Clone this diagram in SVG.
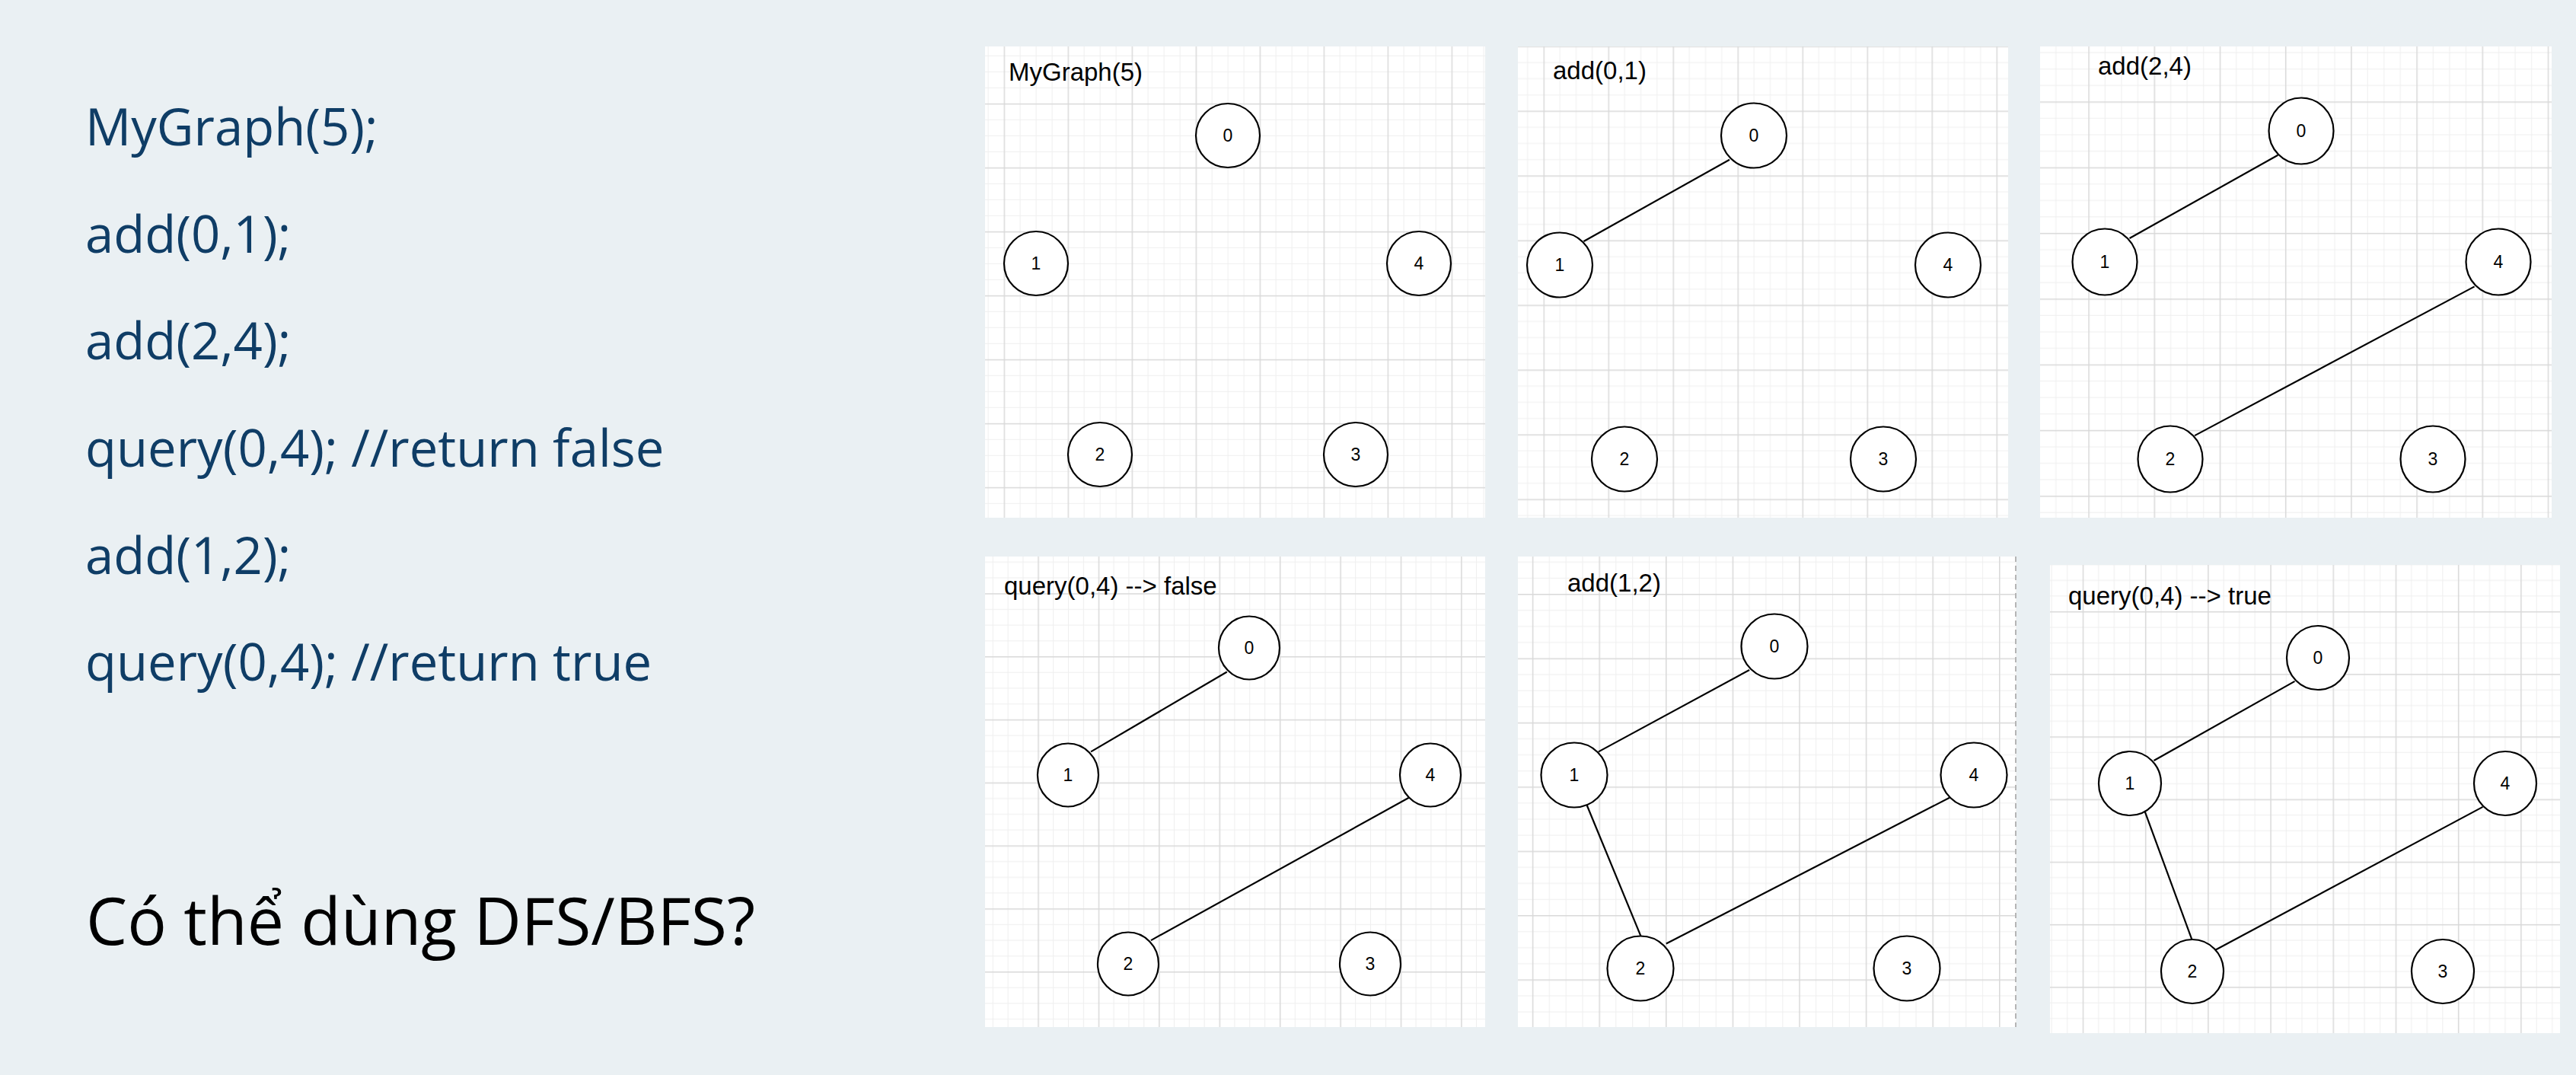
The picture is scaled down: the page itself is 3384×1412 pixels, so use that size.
<svg xmlns="http://www.w3.org/2000/svg" width="3384" height="1412" viewBox="0 0 3384 1412">
<style>
.code{font-family:"Open Sans","Noto Sans",sans-serif;font-size:67px;fill:#0f3d66;}
.q{font-family:"Open Sans","Noto Sans",sans-serif;font-size:86px;fill:#000;}
.title{font-family:"Liberation Sans",Arial,sans-serif;font-size:33px;fill:#000;}
.lbl{font-family:"Liberation Sans",Arial,sans-serif;font-size:23px;fill:#000;text-anchor:middle;}
.node{fill:#fff;stroke:#000;stroke-width:2.2;}
.edge{stroke:#000;stroke-width:2.2;fill:none;}
.mn{fill:#efefef;}
.mj{fill:#d9d9d9;}
</style>
<defs>
<pattern id="g1" patternUnits="userSpaceOnUse" x="1318.6" y="135.8" width="84" height="84">
<rect width="84" height="84" fill="#fff"/>
<rect class="mn" x="21" y="0" width="1" height="84"/><rect class="mn" x="42" y="0" width="1" height="84"/><rect class="mn" x="63" y="0" width="1" height="84"/>
<rect class="mn" x="0" y="21" width="84" height="1"/><rect class="mn" x="0" y="42" width="84" height="1"/><rect class="mn" x="0" y="63" width="84" height="1"/>
<rect class="mj" x="0" y="0" width="1.5" height="84"/><rect class="mj" x="0" y="0" width="84" height="1.5"/>
</pattern>
<pattern id="g2" patternUnits="userSpaceOnUse" x="2027.5" y="145.4" width="85" height="85">
<rect width="85" height="85" fill="#fff"/>
<rect class="mn" x="21.25" y="0" width="1" height="85"/><rect class="mn" x="42.5" y="0" width="1" height="85"/><rect class="mn" x="63.75" y="0" width="1" height="85"/>
<rect class="mn" x="0" y="21.25" width="85" height="1"/><rect class="mn" x="0" y="42.5" width="85" height="1"/><rect class="mn" x="0" y="63.75" width="85" height="1"/>
<rect class="mj" x="0" y="0" width="1.5" height="85"/><rect class="mj" x="0" y="0" width="85" height="1.5"/>
</pattern>
<pattern id="g3" patternUnits="userSpaceOnUse" x="2743.3" y="133.3" width="86.2" height="86.3">
<rect width="86.2" height="86.3" fill="#fff"/>
<rect class="mn" x="21.55" y="0" width="1" height="86.3"/><rect class="mn" x="43.1" y="0" width="1" height="86.3"/><rect class="mn" x="64.65" y="0" width="1" height="86.3"/>
<rect class="mn" x="0" y="21.58" width="86.2" height="1"/><rect class="mn" x="0" y="43.15" width="86.2" height="1"/><rect class="mn" x="0" y="64.72" width="86.2" height="1"/>
<rect class="mj" x="0" y="0" width="1.5" height="86.3"/><rect class="mj" x="0" y="0" width="86.2" height="1.5"/>
</pattern>
<pattern id="g4" patternUnits="userSpaceOnUse" x="1363.3" y="779.2" width="79.4" height="82.8">
<rect width="79.4" height="82.8" fill="#fff"/>
<rect class="mn" x="19.85" y="0" width="1" height="82.8"/><rect class="mn" x="39.7" y="0" width="1" height="82.8"/><rect class="mn" x="59.55" y="0" width="1" height="82.8"/>
<rect class="mn" x="0" y="20.7" width="79.4" height="1"/><rect class="mn" x="0" y="41.4" width="79.4" height="1"/><rect class="mn" x="0" y="62.1" width="79.4" height="1"/>
<rect class="mj" x="0" y="0" width="1.5" height="82.8"/><rect class="mj" x="0" y="0" width="79.4" height="1.5"/>
</pattern>
<pattern id="g5" patternUnits="userSpaceOnUse" x="2012.8" y="780" width="87.6" height="84.4">
<rect width="87.6" height="84.4" fill="#fff"/>
<rect class="mn" x="21.9" y="0" width="1" height="84.4"/><rect class="mn" x="43.8" y="0" width="1" height="84.4"/><rect class="mn" x="65.7" y="0" width="1" height="84.4"/>
<rect class="mn" x="0" y="21.1" width="87.6" height="1"/><rect class="mn" x="0" y="42.2" width="87.6" height="1"/><rect class="mn" x="0" y="63.3" width="87.6" height="1"/>
<rect class="mj" x="0" y="0" width="1.5" height="84.4"/><rect class="mj" x="0" y="0" width="87.6" height="1.5"/>
</pattern>
<pattern id="g6" patternUnits="userSpaceOnUse" x="2735.7" y="802.9" width="82.2" height="82.2">
<rect width="82.2" height="82.2" fill="#fff"/>
<rect class="mn" x="20.55" y="0" width="1" height="82.2"/><rect class="mn" x="41.1" y="0" width="1" height="82.2"/><rect class="mn" x="61.65" y="0" width="1" height="82.2"/>
<rect class="mn" x="0" y="20.55" width="82.2" height="1"/><rect class="mn" x="0" y="41.1" width="82.2" height="1"/><rect class="mn" x="0" y="61.65" width="82.2" height="1"/>
<rect class="mj" x="0" y="0" width="1.5" height="82.2"/><rect class="mj" x="0" y="0" width="82.2" height="1.5"/>
</pattern>
</defs>
<rect x="0" y="0" width="3384" height="1412" fill="#eaf0f3"/>

<g id="code-text">
<text class="code" x="112" y="191">MyGraph(5);</text>
<text class="code" x="112" y="332">add(0,1);</text>
<text class="code" x="112" y="472">add(2,4);</text>
<text class="code" x="112" y="613">query(0,4); //return false</text>
<text class="code" x="112" y="754">add(1,2);</text>
<text class="code" x="112" y="894">query(0,4); //return true</text>
<text class="q" x="113" y="1241">Có thể dùng DFS/BFS?</text>
</g>

<g id="panels">
<rect id="panel1" x="1294" y="61" width="657" height="619" fill="url(#g1)"/>
<rect id="panel2" x="1994" y="61" width="644" height="619" fill="url(#g2)"/>
<rect id="panel3" x="2680" y="61" width="672" height="619" fill="url(#g3)"/>
<rect id="panel4" x="1294" y="731" width="657" height="618" fill="url(#g4)"/>
<rect id="panel5" x="1994" y="731" width="655" height="618" fill="url(#g5)"/>
<line x1="2648" y1="731" x2="2648" y2="1349" stroke="#b5b5b5" stroke-width="2" stroke-dasharray="7,5"/>
<rect id="panel6" x="2693" y="742" width="670" height="615" fill="url(#g6)"/>
</g>

<g id="titles">
<text class="title" x="1325" y="106">MyGraph(5)</text>
<text class="title" x="2040" y="104">add(0,1)</text>
<text class="title" x="2756" y="98">add(2,4)</text>
<text class="title" x="1319" y="781" font-size="32">query(0,4) --&gt; false</text>
<text class="title" x="2059" y="777">add(1,2)</text>
<text class="title" x="2717" y="794" font-size="32">query(0,4) --&gt; true</text>
</g>

<g id="connectors">
<line class="edge" x1="2272" y1="209.7" x2="2080.5" y2="317"/>
<line class="edge" x1="2992.4" y1="203.7" x2="2797.5" y2="313"/>
<line class="edge" x1="3250.6" y1="376.4" x2="2883.1" y2="572.1"/>
<line class="edge" x1="1611.8" y1="882.5" x2="1433.1" y2="987.4"/>
<line class="edge" x1="1850.8" y1="1047.8" x2="1512" y2="1235.1"/>
<line class="edge" x1="2298.1" y1="880" x2="2099.9" y2="987.4"/>
<line class="edge" x1="2084.8" y1="1058" x2="2155.4" y2="1229.4"/>
<line class="edge" x1="2561" y1="1047.8" x2="2188.8" y2="1239.6"/>
<line class="edge" x1="3014.5" y1="894.9" x2="2829.5" y2="999"/>
<line class="edge" x1="2814.7" y1="1057.8" x2="2879.8" y2="1235.2"/>
<line class="edge" x1="3261.5" y1="1059.9" x2="2910.3" y2="1247.7"/>
</g>

<g id="p1-nodes">
<g id="p1-n0"><ellipse class="node" cx="1613" cy="178" rx="42" ry="42"/><text class="lbl" x="1613" y="186">0</text></g>
<g id="p1-n1"><ellipse class="node" cx="1361" cy="346" rx="42" ry="42"/><text class="lbl" x="1361" y="354">1</text></g>
<g id="p1-n4"><ellipse class="node" cx="1864" cy="346" rx="42" ry="42"/><text class="lbl" x="1864" y="354">4</text></g>
<g id="p1-n2"><ellipse class="node" cx="1445" cy="597" rx="42" ry="42"/><text class="lbl" x="1445" y="605">2</text></g>
<g id="p1-n3"><ellipse class="node" cx="1781" cy="597" rx="42" ry="42"/><text class="lbl" x="1781" y="605">3</text></g>
</g>
<g id="p2-nodes">
<g id="p2-n0"><ellipse class="node" cx="2304" cy="178" rx="43" ry="42.5"/><text class="lbl" x="2304" y="186">0</text></g>
<g id="p2-n1"><ellipse class="node" cx="2049" cy="348" rx="43" ry="42.5"/><text class="lbl" x="2049" y="356">1</text></g>
<g id="p2-n4"><ellipse class="node" cx="2559" cy="348" rx="43" ry="42.5"/><text class="lbl" x="2559" y="356">4</text></g>
<g id="p2-n2"><ellipse class="node" cx="2134" cy="603" rx="43" ry="42.5"/><text class="lbl" x="2134" y="611">2</text></g>
<g id="p2-n3"><ellipse class="node" cx="2474" cy="603" rx="43" ry="42.5"/><text class="lbl" x="2474" y="611">3</text></g>
</g>
<g id="p3-nodes">
<g id="p3-n0"><ellipse class="node" cx="3023" cy="172" rx="42.5" ry="43.5"/><text class="lbl" x="3023" y="180">0</text></g>
<g id="p3-n1"><ellipse class="node" cx="2765" cy="344" rx="42.5" ry="43.5"/><text class="lbl" x="2765" y="352">1</text></g>
<g id="p3-n4"><ellipse class="node" cx="3282" cy="344" rx="42.5" ry="43.5"/><text class="lbl" x="3282" y="352">4</text></g>
<g id="p3-n2"><ellipse class="node" cx="2851" cy="603" rx="42.5" ry="43.5"/><text class="lbl" x="2851" y="611">2</text></g>
<g id="p3-n3"><ellipse class="node" cx="3196" cy="603" rx="42.5" ry="43.5"/><text class="lbl" x="3196" y="611">3</text></g>
</g>
<g id="p4-nodes">
<g id="p4-n0"><ellipse class="node" cx="1641" cy="851" rx="40" ry="41.5"/><text class="lbl" x="1641" y="859">0</text></g>
<g id="p4-n1"><ellipse class="node" cx="1403" cy="1018" rx="40" ry="41.5"/><text class="lbl" x="1403" y="1026">1</text></g>
<g id="p4-n4"><ellipse class="node" cx="1879" cy="1018" rx="40" ry="41.5"/><text class="lbl" x="1879" y="1026">4</text></g>
<g id="p4-n2"><ellipse class="node" cx="1482" cy="1266" rx="40" ry="41.5"/><text class="lbl" x="1482" y="1274">2</text></g>
<g id="p4-n3"><ellipse class="node" cx="1800" cy="1266" rx="40" ry="41.5"/><text class="lbl" x="1800" y="1274">3</text></g>
</g>
<g id="p5-nodes">
<g id="p5-n0"><ellipse class="node" cx="2331" cy="849" rx="43.5" ry="42.5"/><text class="lbl" x="2331" y="857">0</text></g>
<g id="p5-n1"><ellipse class="node" cx="2068" cy="1018" rx="43.5" ry="42.5"/><text class="lbl" x="2068" y="1026">1</text></g>
<g id="p5-n4"><ellipse class="node" cx="2593" cy="1018" rx="43.5" ry="42.5"/><text class="lbl" x="2593" y="1026">4</text></g>
<g id="p5-n2"><ellipse class="node" cx="2155" cy="1272" rx="43.5" ry="42.5"/><text class="lbl" x="2155" y="1280">2</text></g>
<g id="p5-n3"><ellipse class="node" cx="2505" cy="1272" rx="43.5" ry="42.5"/><text class="lbl" x="2505" y="1280">3</text></g>
</g>
<g id="p6-nodes">
<g id="p6-n0"><ellipse class="node" cx="3045" cy="864" rx="41" ry="42"/><text class="lbl" x="3045" y="872">0</text></g>
<g id="p6-n1"><ellipse class="node" cx="2798" cy="1029" rx="41" ry="42"/><text class="lbl" x="2798" y="1037">1</text></g>
<g id="p6-n4"><ellipse class="node" cx="3291" cy="1029" rx="41" ry="42"/><text class="lbl" x="3291" y="1037">4</text></g>
<g id="p6-n2"><ellipse class="node" cx="2880" cy="1276" rx="41" ry="42"/><text class="lbl" x="2880" y="1284">2</text></g>
<g id="p6-n3"><ellipse class="node" cx="3209" cy="1276" rx="41" ry="42"/><text class="lbl" x="3209" y="1284">3</text></g>
</g>
</svg>
